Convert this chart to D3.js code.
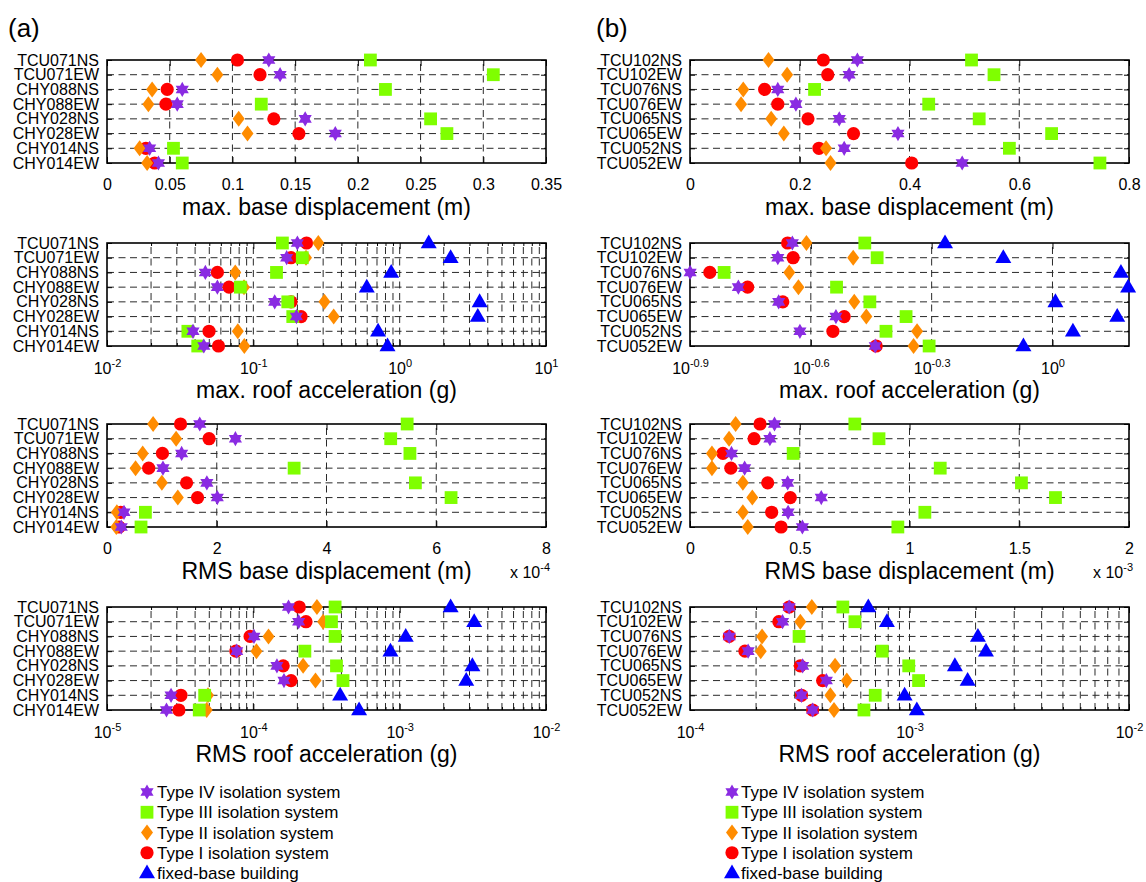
<!DOCTYPE html>
<html>
<head>
<meta charset="utf-8">
<script src="https://cdn.jsdelivr.net/npm/d3@7"></script>
<style>
  body { margin: 0; background: #fff; }
  svg { display: block; font-family: "Liberation Sans", Arial, Helvetica, sans-serif; }
  .grid { stroke: #2a2a2a; stroke-width: 1; stroke-dasharray: 7 4.5; fill: none; }
</style>
</head>
<body>
<svg id="chart" width="1146" height="882"></svg>
<script>
// stations (rows, top to bottom)
const stationsA = ["TCU071NS", "TCU071EW", "CHY088NS", "CHY088EW", "CHY028NS", "CHY028EW", "CHY014NS", "CHY014EW"];
const stationsB = ["TCU102NS", "TCU102EW", "TCU076NS", "TCU076EW", "TCU065NS", "TCU065EW", "TCU052NS", "TCU052EW"];

const seriesNames = ["Type IV isolation system", "Type III isolation system", "Type II isolation system", "Type I isolation system", "fixed-base building"];

// max. base displacement (m)
const maxBaseA_IV  = [0.129, 0.138, 0.060, 0.056, 0.158, 0.182, 0.034, 0.041];
const maxBaseA_III = [0.210, 0.308, 0.222, 0.123, 0.258, 0.271, 0.053, 0.060];
const maxBaseA_II  = [0.075, 0.088, 0.036, 0.033, 0.105, 0.112, 0.026, 0.032];
const maxBaseA_I   = [0.104, 0.122, 0.048, 0.047, 0.133, 0.153, 0.031, 0.038];

const maxBaseB_IV  = [0.305, 0.290, 0.160, 0.193, 0.272, 0.379, 0.281, 0.496];
const maxBaseB_III = [0.513, 0.554, 0.227, 0.435, 0.527, 0.659, 0.582, 0.747];
const maxBaseB_II  = [0.143, 0.177, 0.097, 0.093, 0.148, 0.171, 0.248, 0.256];
const maxBaseB_I   = [0.243, 0.251, 0.136, 0.160, 0.215, 0.298, 0.235, 0.404];

// max. roof acceleration (g)
const maxRoofA_IV    = [0.200, 0.169, 0.047, 0.0568, 0.140, 0.197, 0.0387, 0.0459];
const maxRoofA_III   = [0.158, 0.216, 0.144, 0.0815, 0.172, 0.186, 0.0357, 0.0417];
const maxRoofA_II    = [0.278, 0.229, 0.0752, 0.0863, 0.306, 0.354, 0.0783, 0.0868];
const maxRoofA_I     = [0.231, 0.181, 0.0568, 0.0682, 0.181, 0.212, 0.0498, 0.0578];
const maxRoofA_fixed = [1.58, 2.23, 0.875, 0.596, 3.52, 3.42, 0.712, 0.826];

const maxRoofB_IV    = [0.226, 0.208, 0.126, 0.166, 0.209, 0.290, 0.236, 0.363];
const maxRoofB_III   = [0.342, 0.367, 0.153, 0.291, 0.352, 0.433, 0.386, 0.494];
const maxRoofB_II    = [0.245, 0.320, 0.222, 0.234, 0.322, 0.345, 0.461, 0.452];
const maxRoofB_I     = [0.220, 0.227, 0.141, 0.175, 0.214, 0.304, 0.285, 0.365];
const maxRoofB_fixed = [0.541, 0.755, 1.479, 1.541, 1.017, 1.448, 1.124, 0.847];

// RMS base displacement (m)
const rmsBaseA_IV  = [1.69e-4, 2.34e-4, 1.36e-4, 1.02e-4, 1.82e-4, 2.01e-4, 0.31e-4, 0.26e-4];
const rmsBaseA_III = [5.47e-4, 5.17e-4, 5.52e-4, 3.41e-4, 5.62e-4, 6.27e-4, 0.70e-4, 0.62e-4];
const rmsBaseA_II  = [0.84e-4, 1.26e-4, 0.65e-4, 0.52e-4, 1.00e-4, 1.29e-4, 0.18e-4, 0.17e-4];
const rmsBaseA_I   = [1.34e-4, 1.86e-4, 1.01e-4, 0.76e-4, 1.45e-4, 1.65e-4, 0.25e-4, 0.22e-4];

const rmsBaseB_IV  = [0.385e-3, 0.364e-3, 0.189e-3, 0.249e-3, 0.445e-3, 0.598e-3, 0.447e-3, 0.512e-3];
const rmsBaseB_III = [0.751e-3, 0.861e-3, 0.470e-3, 1.140e-3, 1.510e-3, 1.665e-3, 1.070e-3, 0.947e-3];
const rmsBaseB_II  = [0.208e-3, 0.178e-3, 0.100e-3, 0.100e-3, 0.241e-3, 0.284e-3, 0.241e-3, 0.263e-3];
const rmsBaseB_I   = [0.319e-3, 0.292e-3, 0.150e-3, 0.186e-3, 0.354e-3, 0.457e-3, 0.372e-3, 0.415e-3];

// RMS roof acceleration (g)
const rmsRoofA_IV    = [1.74e-4, 2.04e-4, 1.01e-4, 7.7e-5, 1.45e-4, 1.62e-4, 2.74e-5, 2.55e-5];
const rmsRoofA_III   = [3.62e-4, 3.42e-4, 3.62e-4, 2.25e-4, 3.70e-4, 4.10e-4, 4.65e-5, 4.27e-5];
const rmsRoofA_II    = [2.72e-4, 3.00e-4, 1.27e-4, 1.05e-4, 2.19e-4, 2.66e-4, 4.9e-5, 4.8e-5];
const rmsRoofA_I     = [2.06e-4, 2.29e-4, 9.5e-5, 7.6e-5, 1.60e-4, 1.81e-4, 3.2e-5, 3.1e-5];
const rmsRoofA_fixed = [2.23e-3, 3.23e-3, 1.10e-3, 8.65e-4, 3.14e-3, 2.85e-3, 3.92e-4, 5.28e-4];

const rmsRoofB_IV    = [2.83e-4, 2.64e-4, 1.51e-4, 1.84e-4, 3.26e-4, 4.18e-4, 3.22e-4, 3.62e-4];
const rmsRoofB_III   = [4.97e-4, 5.64e-4, 3.14e-4, 7.51e-4, 9.92e-4, 1.10e-3, 6.98e-4, 6.20e-4];
const rmsRoofB_II    = [3.59e-4, 3.18e-4, 2.13e-4, 2.10e-4, 4.58e-4, 5.18e-4, 4.36e-4, 4.53e-4];
const rmsRoofB_I     = [2.83e-4, 2.54e-4, 1.51e-4, 1.78e-4, 3.18e-4, 4.02e-4, 3.22e-4, 3.62e-4];
const rmsRoofB_fixed = [6.49e-4, 7.89e-4, 2.05e-3, 2.23e-3, 1.61e-3, 1.84e-3, 9.5e-4, 1.08e-3];

// tick values
const ticksMaxBaseA = [0, 0.05, 0.1, 0.15, 0.2, 0.25, 0.3, 0.35];
const ticksMaxBaseB = [0, 0.2, 0.4, 0.6, 0.8];
const ticksMaxRoofA = [1e-2, 1e-1, 1, 10];
const ticksMaxRoofBExp = [-0.9, -0.6, -0.3, 0];
const ticksRmsBaseA = [0, 2e-4, 4e-4, 6e-4, 8e-4];
const ticksRmsBaseB = [0, 0.5e-3, 1e-3, 1.5e-3, 2e-3];
const ticksRmsRoofA = [1e-5, 1e-4, 1e-3, 1e-2];
const ticksRmsRoofB = [1e-4, 1e-3, 1e-2];

// ---- drawing ----
const svg = d3.select("#chart");
svg.append("rect").attr("width", 1146).attr("height", 882).attr("fill", "#fff");

const colLeft = [107, 690];
const plotW = 439;
const rowTop = [60, 243, 424, 607];
const plotH = 103;

const colors = { iv: "#8a2be2", iii: "#7fff00", ii: "#ff8c00", i: "#ff0000", fixed: "#0000ff" };

function hexagram(ro) {
  const ri = ro / Math.sqrt(3);
  const pts = d3.range(12).map(k => {
    const a = (-90 + k * 30) * Math.PI / 180;
    const r = k % 2 === 0 ? ro : ri;
    return [r * Math.cos(a), r * Math.sin(a)];
  });
  return "M" + pts.map(p => p.join(",")).join("L") + "Z";
}
const shapes = {
  iv: hexagram(7.6),
  iii: "M-6.4,-6.4H6.4V6.4H-6.4Z",
  ii: "M0,-8L6,0L0,8L-6,0Z",
  i: "M6.6,0A6.6,6.6 0 1,1 -6.6,0A6.6,6.6 0 1,1 6.6,0Z",
  fixed: "M0,-8.5L8,5.3L-8,5.3Z"
};
const drawOrder = ["fixed", "i", "ii", "iii", "iv"];

function supLabel(sel, base, exp) {
  sel.text(null);
  sel.append("tspan").text(base);
  sel.append("tspan").attr("dy", -7).attr("font-size", 11).text(exp);
}

function drawPanel(p) {
  const g = svg.append("g").attr("transform", `translate(${colLeft[p.col]},${rowTop[p.row]})`);
  const x = (p.log ? d3.scaleLog() : d3.scaleLinear()).domain(p.domain).range([0, plotW]);
  const y = d3.scalePoint().domain(p.stations).range([0, plotH]);

  // grid
  g.append("g").selectAll("line").data(p.stations.slice(1, -1)).join("line")
    .attr("class", "grid")
    .attr("x1", 0).attr("x2", plotW).attr("y1", d => y(d)).attr("y2", d => y(d));
  const gridVals = (p.minor ? x.ticks() : p.ticks).filter(v => x(v) > 1 && x(v) < plotW - 1);
  g.append("g").selectAll("line").data(gridVals).join("line")
    .attr("class", "grid")
    .attr("x1", d => x(d)).attr("x2", d => x(d)).attr("y1", plotH).attr("y2", 0);

  // minor ticks (log)
  if (p.minor) {
    const minors = x.ticks().filter(v => !p.ticks.includes(v));
    g.append("g").call(d3.axisBottom(x).tickValues(minors).tickSize(-3).tickFormat(""))
      .attr("transform", `translate(0,${plotH})`).call(a => a.select(".domain").remove());
    g.append("g").call(d3.axisTop(x).tickValues(minors).tickSize(-3).tickFormat(""))
      .call(a => a.select(".domain").remove());
  }

  // x axis
  const xb = g.append("g").attr("transform", `translate(0,${plotH})`)
    .call(d3.axisBottom(x).tickValues(p.ticks).tickSizeInner(-6).tickSizeOuter(0).tickPadding(p.log ? 17 : 16));
  xb.select(".domain").remove();
  xb.selectAll("text").attr("font-size", 16).attr("fill", "#000").attr("font-family", null)
    .each(function (d) {
      const t = d3.select(this);
      if (p.log) supLabel(t, "10", p.expFmt(d));
      else t.text(p.fmt(d));
    });
  g.append("g").call(d3.axisTop(x).tickValues(p.ticks).tickSizeInner(-6).tickSizeOuter(0).tickFormat(""))
    .call(a => a.select(".domain").remove());

  // y axis
  const yl = g.append("g").call(d3.axisLeft(y).tickSizeInner(-5).tickSizeOuter(0).tickPadding(8));
  yl.select(".domain").remove();
  yl.selectAll("text").attr("font-size", 16).attr("fill", "#000").attr("font-family", null);
  g.append("g").attr("transform", `translate(${plotW},0)`)
    .call(d3.axisRight(y).tickSizeInner(-5).tickSizeOuter(0).tickFormat(""))
    .call(a => a.select(".domain").remove());

  // box
  g.append("rect").attr("width", plotW).attr("height", plotH)
    .attr("fill", "none").attr("stroke", "#000").attr("stroke-width", 1.6);

  // title
  g.append("text").attr("x", plotW / 2).attr("y", plotH + 52)
    .attr("text-anchor", "middle").attr("font-size", 23).text(p.title);

  if (p.mult) {
    const m = g.append("text").attr("x", plotW + 4).attr("y", plotH + 51)
      .attr("text-anchor", "end").attr("font-size", 16);
    m.append("tspan").text("x 10");
    m.append("tspan").attr("dy", -7).attr("font-size", 11).text(p.mult);
  }

  // markers
  drawOrder.forEach(k => {
    const vals = p.series[k];
    if (!vals) return;
    g.append("g").selectAll("path")
      .data(vals.map((v, i) => ({ v, s: p.stations[i] })))
      .join("path")
      .attr("transform", d => `translate(${x(d.v)},${y(d.s)})`)
      .attr("d", shapes[k])
      .attr("fill", colors[k]);
  });
}

const fmtPlain = d => String(+d.toFixed(3));
const expInt = d => String(Math.round(Math.log10(d)));
const panels = [
  { col: 0, row: 0, stations: stationsA, domain: [0, 0.35], ticks: ticksMaxBaseA, fmt: fmtPlain,
    title: "max. base displacement (m)",
    series: { iv: maxBaseA_IV, iii: maxBaseA_III, ii: maxBaseA_II, i: maxBaseA_I } },
  { col: 1, row: 0, stations: stationsB, domain: [0, 0.8], ticks: ticksMaxBaseB, fmt: fmtPlain,
    title: "max. base displacement (m)",
    series: { iv: maxBaseB_IV, iii: maxBaseB_III, ii: maxBaseB_II, i: maxBaseB_I } },
  { col: 0, row: 1, stations: stationsA, log: true, minor: true, domain: [1e-2, 10], ticks: ticksMaxRoofA, expFmt: expInt,
    title: "max. roof acceleration (g)",
    series: { iv: maxRoofA_IV, iii: maxRoofA_III, ii: maxRoofA_II, i: maxRoofA_I, fixed: maxRoofA_fixed } },
  { col: 1, row: 1, stations: stationsB, log: true, minor: false, domain: [Math.pow(10, -0.9), Math.pow(10, 0.19)],
    ticks: ticksMaxRoofBExp.map(e => Math.pow(10, e)),
    expFmt: d => String(+Math.log10(d).toFixed(1)),
    title: "max. roof acceleration (g)",
    series: { iv: maxRoofB_IV, iii: maxRoofB_III, ii: maxRoofB_II, i: maxRoofB_I, fixed: maxRoofB_fixed } },
  { col: 0, row: 2, stations: stationsA, domain: [0, 8e-4], ticks: ticksRmsBaseA, fmt: d => fmtPlain(d / 1e-4), mult: "-4",
    title: "RMS base displacement (m)",
    series: { iv: rmsBaseA_IV, iii: rmsBaseA_III, ii: rmsBaseA_II, i: rmsBaseA_I } },
  { col: 1, row: 2, stations: stationsB, domain: [0, 2e-3], ticks: ticksRmsBaseB, fmt: d => fmtPlain(d / 1e-3), mult: "-3",
    title: "RMS base displacement (m)",
    series: { iv: rmsBaseB_IV, iii: rmsBaseB_III, ii: rmsBaseB_II, i: rmsBaseB_I } },
  { col: 0, row: 3, stations: stationsA, log: true, minor: true, domain: [1e-5, 1e-2], ticks: ticksRmsRoofA, expFmt: expInt,
    title: "RMS roof acceleration (g)",
    series: { iv: rmsRoofA_IV, iii: rmsRoofA_III, ii: rmsRoofA_II, i: rmsRoofA_I, fixed: rmsRoofA_fixed } },
  { col: 1, row: 3, stations: stationsB, log: true, minor: true, domain: [1e-4, 1e-2], ticks: ticksRmsRoofB, expFmt: expInt,
    title: "RMS roof acceleration (g)",
    series: { iv: rmsRoofB_IV, iii: rmsRoofB_III, ii: rmsRoofB_II, i: rmsRoofB_I, fixed: rmsRoofB_fixed } }
];
panels.forEach(drawPanel);

// panel letters
svg.append("text").attr("x", 8).attr("y", 37).attr("font-size", 26).text("(a)");
svg.append("text").attr("x", 596).attr("y", 37).attr("font-size", 26).text("(b)");

// legends
const legendKeys = ["iv", "iii", "ii", "i", "fixed"];
const legendY = d3.scalePoint().domain(legendKeys).range([792, 873]);
[[147, 157], [732, 741]].forEach(([mx, tx]) => {
  const lg = svg.append("g");
  legendKeys.forEach((k, i) => {
    lg.append("path").attr("transform", `translate(${mx},${legendY(k)})`)
      .attr("d", shapes[k]).attr("fill", colors[k]);
    lg.append("text").attr("x", tx).attr("y", legendY(k) + 6)
      .attr("font-size", 17).text(seriesNames[i]);
  });
});
</script>
</body>
</html>
